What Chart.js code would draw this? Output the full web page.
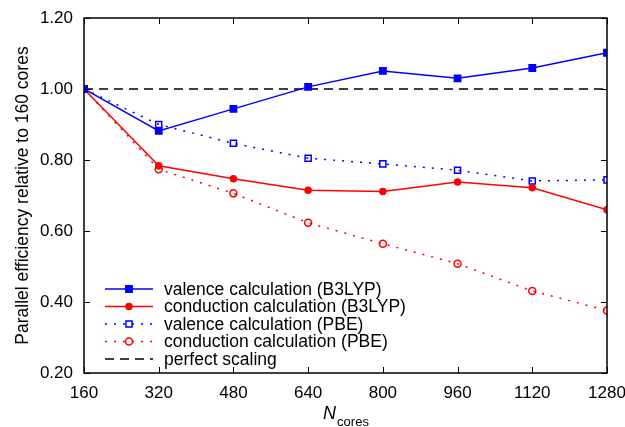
<!DOCTYPE html>
<html>
<head>
<meta charset="utf-8">
<script src="https://cdn.jsdelivr.net/npm/chart.js@4.4.0/dist/chart.umd.min.js"></script>
<style>
  html, body { margin: 0; padding: 0; background: #fff; }
  #wrap { width: 625px; height: 427px; }
</style>
</head>
<body>
<div id="wrap"><canvas id="graphOutputCanvas" width="625" height="427"></canvas></div>
<script>
//data
var cores = [160, 320, 480, 640, 800, 960, 1120, 1280];
var valenceB3LYP = [1.00, 0.882, 0.944, 1.006, 1.051, 1.030, 1.059, 1.102];
var conductionB3LYP = [1.00, 0.784, 0.747, 0.715, 0.711, 0.738, 0.722, 0.660];
var valencePBE = [1.00, 0.900, 0.847, 0.805, 0.789, 0.771, 0.741, 0.744];
var conductionPBE = [1.00, 0.774, 0.706, 0.623, 0.564, 0.508, 0.431, 0.376];
var perfectX = [160, 1280];
var perfectY = [1.0, 1.0];
var xTicks = [160, 320, 480, 640, 800, 960, 1120, 1280];
var yTicks = [0.2, 0.4, 0.6, 0.8, 1.0, 1.2];
var seriesNames = ["valence calculation (B3LYP)", "conduction calculation (B3LYP)",
    "valence calculation (PBE)", "conduction calculation (PBE)", "perfect scaling"];

var FONT = "'Liberation Sans', Arial, Helvetica, sans-serif";
var FS = 17;

function toPoints(xs, ys){
    var pts = [];
    for(var i = 0; i < xs.length; i++){
        pts.push({x: xs[i], y: ys[i]});
    }
    return pts;
}

//box, inward ticks, legend and x title
var gnuplotLook = {
    id: "gnuplotLook",
    afterDatasetsDraw: function(chart){
        var ctx = chart.ctx;
        var a = chart.chartArea;
        var xs = chart.scales.x;
        var ys = chart.scales.y;
        ctx.save();
        ctx.strokeStyle = "#000";
        ctx.lineWidth = 1.5;
        ctx.strokeRect(a.left, a.top, a.right - a.left, a.bottom - a.top);
        ctx.lineWidth = 1;
        ctx.beginPath();
        xTicks.forEach(function(v){
            var px = Math.round(xs.getPixelForValue(v)) + 0.5;
            ctx.moveTo(px, a.bottom); ctx.lineTo(px, a.bottom - 6);
            ctx.moveTo(px, a.top); ctx.lineTo(px, a.top + 6);
        });
        yTicks.forEach(function(v){
            var py = Math.round(ys.getPixelForValue(v)) + 0.5;
            ctx.moveTo(a.left, py); ctx.lineTo(a.left + 6, py);
            ctx.moveTo(a.right, py); ctx.lineTo(a.right - 6, py);
        });
        ctx.stroke();

        //legend
        var lx0 = 105, lx1 = 153, tx = 164, ly = 289, step = 17.5;
        ctx.font = "17.5px " + FONT;
        ctx.textBaseline = "middle";
        ctx.textAlign = "left";
        chart.data.datasets.forEach(function(ds, i){
            var y = ly + i * step;
            ctx.strokeStyle = ds.borderColor;
            ctx.lineWidth = ds.borderWidth;
            ctx.setLineDash(ds.borderDash || []);
            ctx.beginPath();
            ctx.moveTo(lx0, y); ctx.lineTo(lx1, y);
            ctx.stroke();
            ctx.setLineDash([]);
            if(ds.pointRadius > 0){
                ctx.fillStyle = ds.pointBackgroundColor;
                ctx.strokeStyle = ds.pointBorderColor;
                ctx.lineWidth = ds.pointBorderWidth;
                Chart.helpers.drawPoint(ctx, {
                    pointStyle: ds.pointStyle,
                    radius: ds.pointRadius,
                    rotation: 0,
                    borderWidth: ds.pointBorderWidth
                }, (lx0 + lx1) / 2, y);
            }
            ctx.fillStyle = "#000";
            ctx.fillText(ds.label, tx, y + 1);
        });

        //x title: N with subscript
        var cx = (a.left + a.right) / 2;
        ctx.fillStyle = "#000";
        ctx.textBaseline = "alphabetic";
        ctx.font = "italic 18px " + FONT;
        var nw = ctx.measureText("N").width;
        ctx.font = "13px " + FONT;
        var sw = ctx.measureText("cores").width;
        var start = cx - (nw + sw) / 2;
        ctx.font = "italic 18px " + FONT;
        ctx.fillText("N", start, 419);
        ctx.font = "13px " + FONT;
        ctx.fillText("cores", start + nw + 1, 426);
        ctx.restore();
    }
};

function makeSet(label, ys, color, dash, style, radius, filled){
    return {
        label: label,
        data: toPoints(cores, ys),
        borderColor: color,
        backgroundColor: color,
        borderWidth: 1.5,
        borderDash: dash,
        pointStyle: style,
        pointRadius: radius,
        pointBorderWidth: 1.5,
        pointBackgroundColor: filled ? color : "rgba(0,0,0,0)",
        pointBorderColor: color,
        tension: 0,
        fill: false
    };
}

var datasets = [
    makeSet(seriesNames[0], valenceB3LYP, "#0000ff", [], "rect", 4.5, true),
    makeSet(seriesNames[1], conductionB3LYP, "#ff0000", [], "circle", 3, true),
    makeSet(seriesNames[2], valencePBE, "#0000ff", [2, 7], "rect", 4.3, false),
    makeSet(seriesNames[3], conductionPBE, "#ff0000", [2, 7], "circle", 3.5, false),
    {
        label: seriesNames[4],
        data: toPoints(perfectX, perfectY),
        borderColor: "#000",
        backgroundColor: "#000",
        borderWidth: 1.5,
        borderDash: [9, 6],
        pointRadius: 0,
        fill: false
    }
];

var currentChart = new Chart(document.getElementById("graphOutputCanvas"), {
    type: "line",
    data: { datasets: datasets },
    options: {
        responsive: false,
        animation: false,
        layout: { padding: { top: 18, right: 18, left: 0, bottom: 0 } },
        plugins: { legend: { display: false }, tooltip: { enabled: false } },
        scales: {
            x: {
                type: "linear",
                min: 160, max: 1280,
                afterBuildTicks: function(scale){
                    scale.ticks = xTicks.map(function(v){ return {value: v}; });
                },
                afterFit: function(scale){
                    scale.height = 54;
                    scale.paddingLeft = 0;
                    scale.paddingRight = 0;
                },
                grid: { display: false, drawTicks: false },
                border: { display: false },
                ticks: {
                    color: "#000",
                    padding: 10,
                    maxRotation: 0,
                    font: { family: FONT, size: FS },
                    callback: function(v){ return String(v); }
                }
            },
            y: {
                min: 0.2, max: 1.2,
                afterBuildTicks: function(scale){
                    scale.ticks = yTicks.map(function(v){ return {value: v}; });
                },
                afterFit: function(scale){
                    scale.width = 84;
                    scale.paddingTop = 0;
                    scale.paddingBottom = 0;
                },
                grid: { display: false, drawTicks: false },
                border: { display: false },
                title: {
                    display: true,
                    text: "Parallel efficiency relative to 160 cores",
                    color: "#000",
                    font: { family: FONT, size: 17.5 },
                    padding: { top: 13, bottom: 0 }
                },
                ticks: {
                    color: "#000",
                    padding: 11,
                    font: { family: FONT, size: FS },
                    callback: function(v){ return Number(v).toFixed(2); }
                }
            }
        }
    },
    plugins: [gnuplotLook]
});
</script>
</body>
</html>
